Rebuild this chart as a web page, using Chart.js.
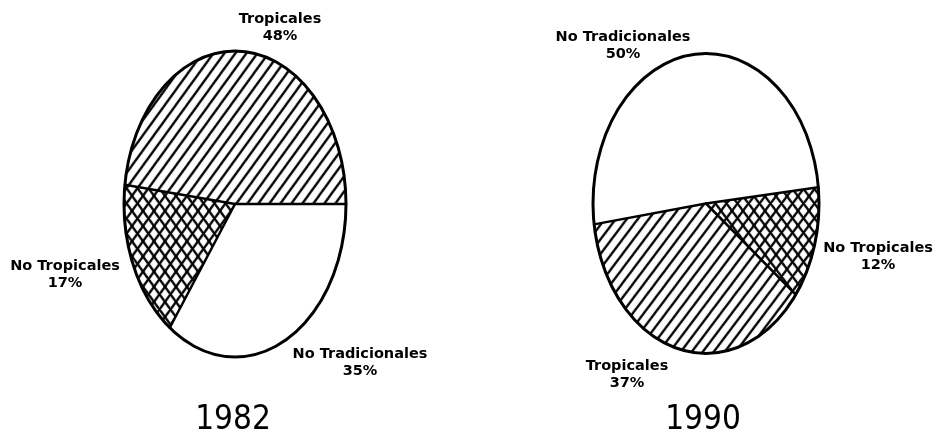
<!DOCTYPE html>
<html>
<head>
<meta charset="utf-8">
<script src="https://cdn.jsdelivr.net/npm/chart.js@4.4.1/dist/chart.umd.min.js"></script>
<style>
html, body { margin: 0; padding: 0; background: #fff; }
#wrap { position: relative; width: 936px; height: 434px; }
.torta { position: absolute; top: 0; width: 468px; height: 434px; }
</style>
</head>
<body>
<div id="wrap">
    <div class="torta" style="left:0"><canvas id="torta1982" width="468" height="434"></canvas></div>
    <div class="torta" style="left:468px"><canvas id="torta1990" width="468" height="434"></canvas></div>
</div>
<script>
// Datos (porcentajes)
const categorias = ['No Tradicionales', 'No Tropicales', 'Tropicales'];
const valores1982 = [35, 17, 48];
const valores1990 = [50, 12, 37];
const anios = ['1982', '1990'];

// Rellenos: blanco, cuadriculado diagonal, rayado diagonal
function crearPatron(tam, cruzado) {
    const c = document.createElement('canvas');
    c.width = c.height = tam;
    const g = c.getContext('2d');
    g.fillStyle = '#fff';
    g.fillRect(0, 0, tam, tam);
    g.strokeStyle = '#000';
    g.lineWidth = 2;
    g.beginPath();
    g.moveTo(-2, tam + 2); g.lineTo(tam + 2, -2);
    g.moveTo(-2, 2); g.lineTo(2, -2);
    g.moveTo(tam - 2, tam + 2); g.lineTo(tam + 2, tam - 2);
    if (cruzado) {
        g.moveTo(-2, -2); g.lineTo(tam + 2, tam + 2);
        g.moveTo(tam - 2, -2); g.lineTo(tam + 2, 2);
        g.moveTo(-2, tam - 2); g.lineTo(2, tam + 2);
    }
    g.stroke();
    return g.createPattern(c, 'repeat');
}

const rellenos = ['#ffffff', crearPatron(11, true), crearPatron(11, false)];

// Dibuja la torta como elipse (escala vertical), bordes y etiquetas
const elipsePlugin = {
    id: 'elipse',
    beforeDatasetsDraw(chart, args, opts) {
        const arco = chart.getDatasetMeta(0).data[0];
        const ctx = chart.ctx;
        ctx.save();
        ctx.translate(arco.x, arco.y);
        ctx.scale(1, opts.escalaY);
        ctx.translate(-arco.x, -arco.y);
    },
    afterDatasetsDraw(chart, args, opts) {
        const ctx = chart.ctx;
        ctx.restore();
        const meta = chart.getDatasetMeta(0);
        const { x, y, outerRadius } = meta.data[0];
        const ry = outerRadius * opts.escalaY;
        ctx.save();
        ctx.strokeStyle = '#000';
        ctx.lineCap = 'round';
        ctx.lineWidth = 2.5;
        meta.data.forEach(a => {
            ctx.beginPath();
            ctx.moveTo(x, y);
            ctx.lineTo(x + outerRadius * Math.cos(a.startAngle), y + ry * Math.sin(a.startAngle));
            ctx.stroke();
        });
        ctx.lineWidth = 3;
        ctx.beginPath();
        ctx.ellipse(x, y, outerRadius, ry, 0, 0, Math.PI * 2);
        ctx.stroke();
        ctx.restore();
    },
    afterDraw(chart, args, opts) {
        const ctx = chart.ctx;
        const valores = chart.data.datasets[0].data;
        ctx.save();
        ctx.fillStyle = '#000';
        ctx.textAlign = 'center';
        ctx.textBaseline = 'middle';
        ctx.font = 'bold 14.5px "DejaVu Sans", sans-serif';
        chart.data.labels.forEach((nombre, i) => {
            const p = opts.etiquetas[i];
            ctx.fillText(nombre, p[0], p[1]);
            ctx.fillText(valores[i] + '%', p[0], p[1] + 17);
        });
        ctx.font = '33px "Liberation Sans Narrow", "DejaVu Sans Condensed", sans-serif';
        ctx.fillText(opts.anio, opts.posAnio[0], opts.posAnio[1]);
        ctx.restore();
    }
};

function crearTorta(id, valores, anio, rotacion, centro, radio, escalaY, etiquetas, posAnio) {
    const W = 468, H = 434;
    new Chart(document.getElementById(id), {
        type: 'pie',
        data: {
            labels: categorias,
            datasets: [{
                data: valores,
                backgroundColor: rellenos,
                borderWidth: 0,
                hoverOffset: 0
            }]
        },
        options: {
            responsive: false,
            animation: false,
            rotation: rotacion,
            layout: {
                padding: {
                    left: centro[0] - radio,
                    right: W - centro[0] - radio,
                    top: centro[1] - radio,
                    bottom: H - centro[1] - radio
                }
            },
            plugins: {
                legend: { display: false },
                tooltip: { enabled: false },
                elipse: { escalaY: escalaY, etiquetas: etiquetas, anio: anio, posAnio: posAnio }
            }
        },
        plugins: [elipsePlugin]
    });
}

crearTorta('torta1982', valores1982, anios[0], 90, [235, 204], 111, 1.378,
    [[360, 354], [65, 266], [280, 19]], [233, 420]);

crearTorta('torta1990', valores1990, anios[1], 262, [238, 203.5], 113, 1.327,
    [[155, 37], [410, 248], [159, 366]], [235, 420]);
</script>
</body>
</html>
